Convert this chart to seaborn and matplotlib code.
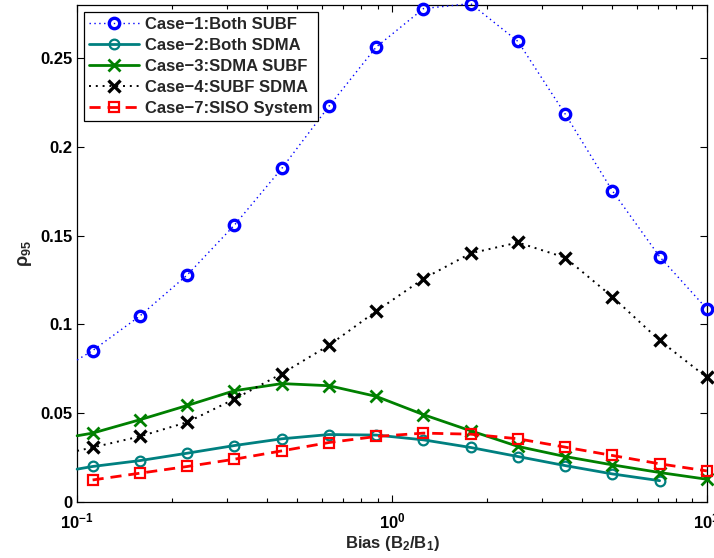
import numpy as np
import pandas as pd
import matplotlib
matplotlib.use("Agg")
import matplotlib.pyplot as plt
from matplotlib.ticker import FormatStrFormatter, LogLocator, NullFormatter
import seaborn as sns

# Bias values (B2/B1) where the markers sit, plus the left edge of the curves
bias = [0.112, 0.158, 0.224, 0.316, 0.447, 0.631, 0.891, 1.259, 1.778,
        2.512, 3.548, 5.012, 7.079, 10.0]
bias_start = 0.1

case1_both_subf = [0.080, 0.0853, 0.1047, 0.128, 0.156, 0.188, 0.223, 0.2563,
                   0.278, 0.2808, 0.2595, 0.2186, 0.1753, 0.1382, 0.1088]
case2_both_sdma = [0.0185, 0.0200, 0.0233, 0.0275, 0.0318, 0.0356, 0.0380,
                   0.0377, 0.0350, 0.0307, 0.0256, 0.0205, 0.0158, 0.0120]
case3_sdma_subf = [0.0373, 0.0388, 0.0463, 0.0544, 0.0627, 0.0667, 0.0655,
                   0.0595, 0.0492, 0.0401, 0.0313, 0.0256, 0.0209, 0.0166, 0.0128]
case4_subf_sdma = [0.0288, 0.0307, 0.0369, 0.0450, 0.0580, 0.0723, 0.0883,
                   0.1075, 0.1258, 0.1401, 0.1462, 0.1377, 0.1156, 0.0910, 0.0702]
case7_siso = [0.0124, 0.0162, 0.0200, 0.0241, 0.0288, 0.0335, 0.0369,
              0.0388, 0.0382, 0.0356, 0.0309, 0.0262, 0.0215, 0.0175]

labels = ["Case\u22121:Both SUBF", "Case\u22122:Both SDMA", "Case\u22123:SDMA SUBF",
          "Case\u22124:SUBF SDMA", "Case\u22127:SISO System"]
yticks = [0, 0.05, 0.1, 0.15, 0.2, 0.25]

sns.set_style("ticks")
plt.rcParams["font.family"] = ["Liberation Sans", "DejaVu Sans"]
plt.rcParams["font.weight"] = "bold"
plt.rcParams["mathtext.fontset"] = "custom"
plt.rcParams["mathtext.rm"] = "Liberation Sans:bold"
plt.rcParams["mathtext.bf"] = "Liberation Sans:bold"
plt.rcParams["mathtext.it"] = "Liberation Sans"
plt.rcParams["axes.unicode_minus"] = True

fig = plt.figure(figsize=(7.14, 5.58), dpi=100)
ax = fig.add_axes([0.108, 0.1004, 0.882, 0.8906])

x_full = [bias_start] + bias
x_short = [bias_start] + bias[:-1]

series = [
    (x_full, case1_both_subf, dict(color=(0, 0, 1), linestyle=(0, (1, 2.5)), linewidth=1.0,
                                   marker="o", markersize=7.5, markeredgewidth=2.4,
                                   markerfacecolor="none", markevery=slice(1, None))),
    (x_short, case2_both_sdma, dict(color=(0, 0.5, 0.5), linestyle="-", linewidth=2.0,
                                    marker="o", markersize=7, markeredgewidth=1.6,
                                    markerfacecolor="none", markevery=slice(1, None))),
    (x_full, case3_sdma_subf, dict(color=(0, 0.5, 0), linestyle="-", linewidth=2.0,
                                   marker="x", markersize=8.5, markeredgewidth=2.0,
                                   markevery=slice(1, None))),
    (x_full, case4_subf_sdma, dict(color="black", linestyle=(0, (1, 2.5)), linewidth=1.4,
                                   marker="x", markersize=8.5, markeredgewidth=2.4,
                                   markevery=slice(1, None))),
    (bias, case7_siso, dict(color="red", linestyle=(0, (4, 2.5)), linewidth=2.0,
                            marker="s", markersize=6.5, markeredgewidth=1.6,
                            markerfacecolor="none", markevery=None)),
]

for (xs, ys, style), lab in zip(series, labels):
    df = pd.DataFrame({"bias": xs, "rho": ys})
    n_before = len(ax.lines)
    sns.lineplot(data=df, x="bias", y="rho", ax=ax, sort=False,
                 estimator=None, legend=False)
    line = ax.lines[n_before]
    line.set_label(lab)
    line.set_color(style["color"])
    line.set_linestyle(style["linestyle"])
    line.set_linewidth(style["linewidth"])
    line.set_marker(style["marker"])
    line.set_markersize(style["markersize"])
    line.set_markeredgewidth(style["markeredgewidth"])
    line.set_markeredgecolor(style["color"])
    line.set_markerfacecolor(style.get("markerfacecolor", style["color"]))
    line.set_markevery(style["markevery"])
    line.set_clip_on(False)
    line.set_zorder(3)

ax.set_xscale("log")
ax.set_xlim(0.1, 10)
ax.set_ylim(0, 0.28)
ax.set_yticks(yticks)
ax.yaxis.set_major_formatter(FormatStrFormatter("%g"))
ax.xaxis.set_major_locator(LogLocator(base=10, numticks=5))
ax.xaxis.set_minor_locator(LogLocator(base=10, subs=np.arange(2, 10), numticks=20))
ax.xaxis.set_minor_formatter(NullFormatter())

ax.tick_params(which="both", direction="in", top=True, right=True,
               labelsize=12, width=0.8, colors="black")
ax.tick_params(axis="x", pad=7)
ax.tick_params(which="major", length=5)
ax.tick_params(which="minor", length=3)
for lbl in ax.get_yticklabels() + ax.get_xticklabels():
    lbl.set_fontweight("bold")
for sp in ax.spines.values():
    sp.set_visible(True)
    sp.set_linewidth(0.9)
    sp.set_color("black")

ax.set_xlabel(r"Bias (B$_2$/B$_1$)", fontsize=12, fontweight="bold", labelpad=2)
ax.set_ylabel(r"$\rho_{\mathbf{95}}$", fontsize=13, labelpad=4)

leg = ax.legend(loc="upper left", fontsize=12, frameon=True, fancybox=False,
                edgecolor="black", framealpha=1, handlelength=3.0,
                borderaxespad=0.4, labelspacing=0.36, borderpad=0.3,
                handletextpad=0.4)
leg.get_frame().set_linewidth(0.9)
for t in leg.get_texts():
    t.set_fontweight("bold")

fig.savefig("out.png", dpi=100)
